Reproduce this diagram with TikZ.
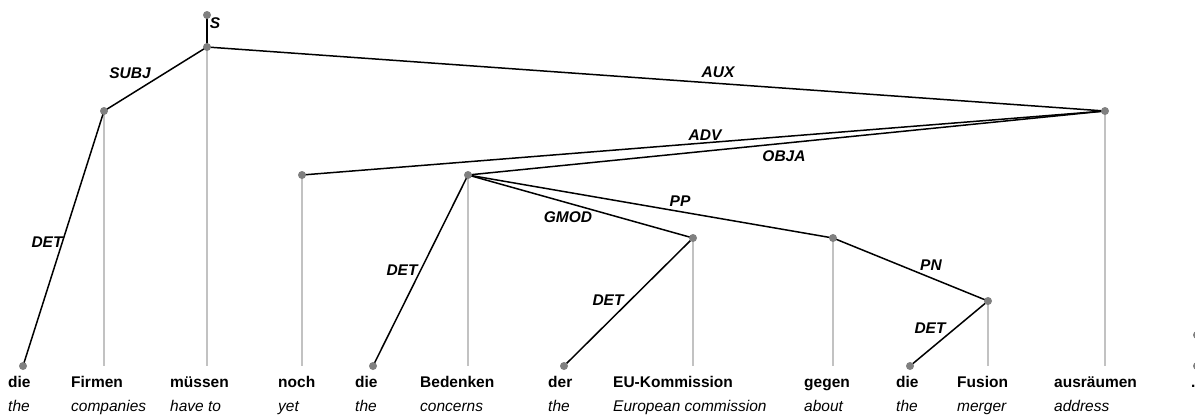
\documentclass[tikz,border=0pt]{standalone}
\usepackage{fontspec}
\setmainfont{Liberation Sans}
\definecolor{dotgray}{gray}{0.5}
\definecolor{linegray}{gray}{0.76}
\begin{document}
\begin{tikzpicture}[x=1pt,y=-1pt,
  word/.style={anchor=base west,inner sep=0pt,font=\fontsize{15.5}{18}\selectfont\bfseries},
  gloss/.style={anchor=base west,inner sep=0pt,font=\fontsize{15.5}{18}\selectfont\itshape},
  rel/.style={inner sep=0pt,font=\fontsize{15.5}{18}\selectfont\bfseries\itshape},
  edge/.style={line width=1.5pt}]
  \useasboundingbox (0,0) rectangle (1195,416);
  % heads of the tokens
  \coordinate (root) at (207,15);
  \coordinate (die1) at (23,366);
  \coordinate (firmen) at (104,111);
  \coordinate (muessen) at (207,47);
  \coordinate (noch) at (302,175);
  \coordinate (die2) at (373,366);
  \coordinate (bedenken) at (468,175);
  \coordinate (der) at (564,366);
  \coordinate (eukomm) at (693,238);
  \coordinate (gegen) at (833,238);
  \coordinate (die3) at (910,366);
  \coordinate (fusion) at (988,301);
  \coordinate (ausraeumen) at (1105,111);
  \coordinate (punkt) at (1197,366);
  \coordinate (punkthead) at (1197,335);
  % projection lines
  \foreach \n in {firmen,muessen,noch,bedenken,eukomm,gegen,fusion,ausraeumen}
    \draw[linegray,line width=1.8pt] (\n) -- (\n |- die1);
  % dependencies
  \draw[edge] (root) -- (muessen);
  \draw[edge] (muessen) -- (firmen);
  \draw[edge] (firmen) -- (die1);
  \draw[edge] (muessen) -- (ausraeumen);
  \draw[edge] (ausraeumen) -- (noch);
  \draw[edge] (ausraeumen) -- (bedenken);
  \draw[edge] (bedenken) -- (die2);
  \draw[edge] (bedenken) -- (eukomm);
  \draw[edge] (bedenken) -- (gegen);
  \draw[edge] (eukomm) -- (der);
  \draw[edge] (gegen) -- (fusion);
  \draw[edge] (fusion) -- (die3);
  \foreach \n in {root,die1,firmen,muessen,noch,die2,bedenken,der,eukomm,gegen,die3,fusion,ausraeumen,punkt,punkthead}
    \fill[dotgray] (\n) circle (4);
  % labels
  \node[rel] (ls) at (215,23) {S};
  \node[rel] (lsubj) at (130,73) {SUBJ};
  \node[rel] (ldet1) at (47,242) {DET};
  \node[rel] (laux) at (718,72) {AUX};
  \node[rel] (ladv) at (705,135) {ADV};
  \node[rel] (lobja) at (784,156) {OBJA};
  \node[rel] (ldet2) at (402,270) {DET};
  \node[rel] (lgmod) at (568,217) {GMOD};
  \node[rel] (lpp) at (680,201) {PP};
  \node[rel] (ldet3) at (608,300) {DET};
  \node[rel] (lpn) at (931,265) {PN};
  \node[rel] (ldet4) at (930,328) {DET};
  % words and glosses
  \foreach \x/\w/\g [count=\i] in {8/die/the,71/Firmen/companies,170/müssen/have to,
      278/noch/yet,355/die/the,420/Bedenken/concerns,548/der/the,
      613/EU-Kommission/European commission,804/gegen/about,896/die/the,
      957/Fusion/merger,1054/ausräumen/address}
  {
    \node[word] (w\i) at (\x,387) {\w};
    \node[gloss] (g\i) at (\x,411) {\g};
  }
  \node[word] (w13) at (1191,387) {.};
\end{tikzpicture}
\end{document}
